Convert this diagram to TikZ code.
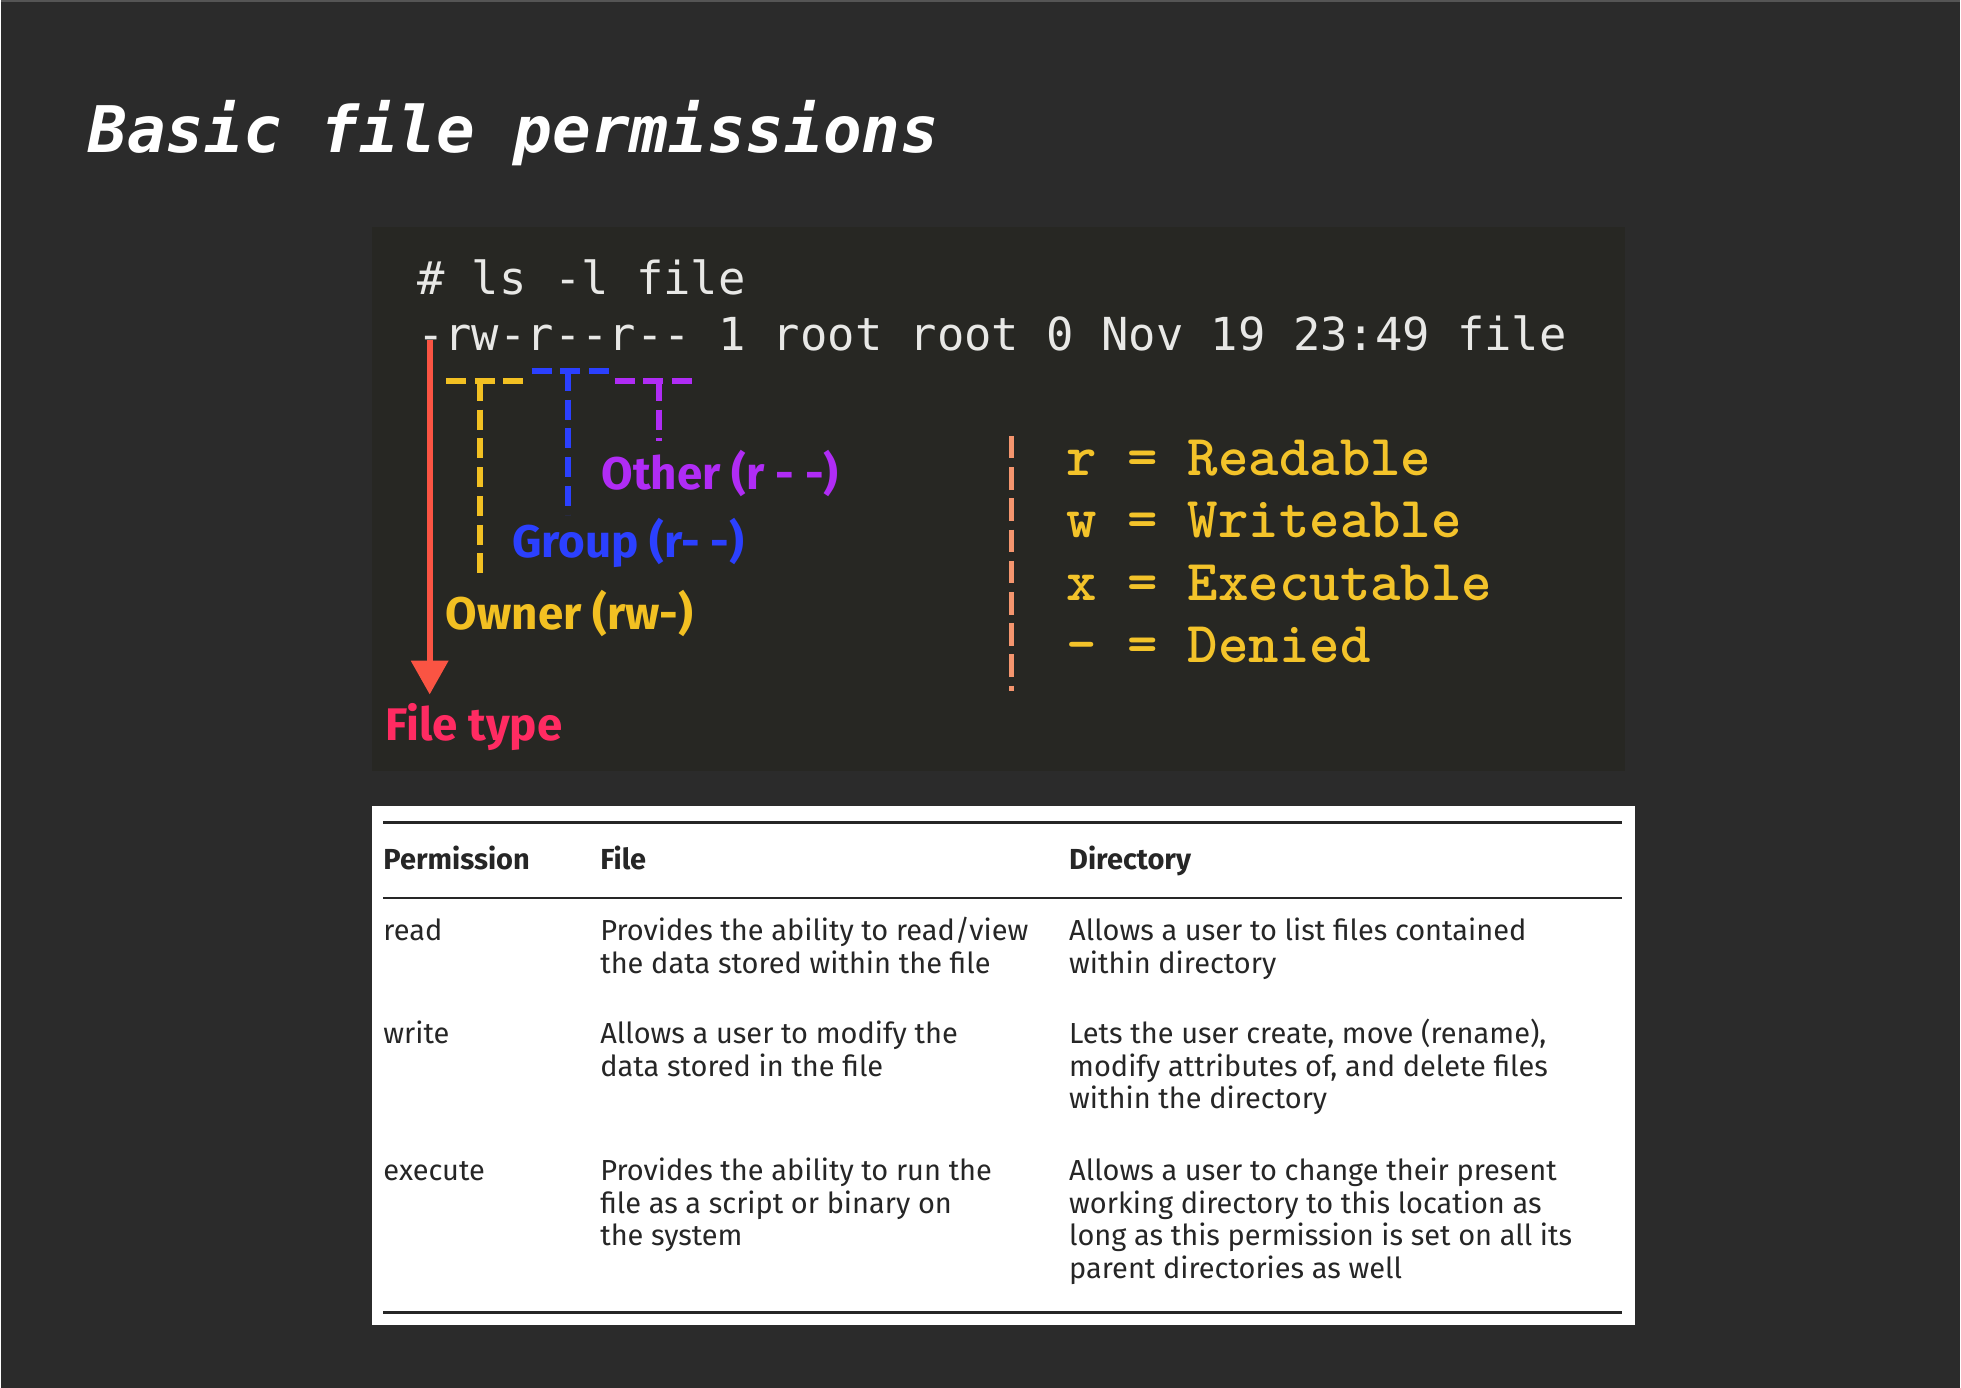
\documentclass[tikz,border=0pt]{standalone}
\usepackage{fontspec}
\setmainfont{Fira Sans}
\setmonofont{DejaVu Sans Mono}
\newfontfamily\legendfont{lmmonolt10-bold.otf}
\usetikzlibrary{positioning,arrows.meta}

\definecolor{bgdark}{HTML}{2B2B2B}
\definecolor{topline}{HTML}{555555}
\definecolor{termbg}{HTML}{272723}
\definecolor{termfg}{HTML}{E8E8E6}
\definecolor{ownerc}{HTML}{F2C022}
\definecolor{groupc}{HTML}{2B40FF}
\definecolor{otherc}{HTML}{B02CF5}
\definecolor{arrowc}{HTML}{FA5443}
\definecolor{typec}{HTML}{FF2B62}
\definecolor{legc}{HTML}{F3C32A}
\definecolor{sepc}{HTML}{F4956E}
\definecolor{tabtext}{HTML}{262626}

\newcommand{\cellrows}[1]{\begin{tabular}[t]{@{}l@{}}#1\end{tabular}}

\begin{document}
\begin{tikzpicture}[x=0.5pt,y=-0.5pt,
  every node/.style={inner sep=0pt, outer sep=0pt},
  titletext/.style={anchor=base west, font=\ttfamily\bfseries\itshape\fontsize{25.7}{30}\selectfont, text=white},
  termtext/.style={anchor=base west, font=\ttfamily\fontsize{18.2}{22}\selectfont, text=termfg},
  tagtext/.style={anchor=base west, font=\bfseries\fontsize{18.3}{21}\selectfont},
  legendtext/.style={anchor=base west, font=\legendfont\fontsize{23.2}{27}\selectfont, text=legc},
  tabhead/.style={anchor=base west, font=\bfseries\fontsize{11.6}{13}\selectfont, text=tabtext},
  tabcell/.style={anchor=base west, font=\fontsize{11.6}{13}\selectfont, text=tabtext},
  bracket/.style={line width=2.4pt, dash pattern=on 8pt off 3.5pt},
  sepline/.style={sepc, line width=2.2pt, dash pattern=on 9pt off 3.5pt},
  typearrow/.style={arrowc, line width=2.3pt, -{Triangle[width=14.5pt,length=13.5pt]}},
  rulethick/.style={tabtext, line width=1.3pt},
  rulethin/.style={tabtext, line width=0.7pt}
]
\fill[bgdark] (0,0) rectangle (1568,1111);
\draw[topline, line width=1pt] (0,1) -- (1568,1);

\node[titletext] (title) at (70,122) {Basic file permissions};

% terminal
\fill[termbg] (297,182) rectangle (1300,617);
\node[termtext] (cmd) at (333,236) {\# ls -l file};
\node[termtext] (lsout) at (333,281) {-rw-r--r-- 1 root root 0 Nov 19 23:49 file};

\coordinate (typetop) at (343,272);
\coordinate (typetip) at (343,556);
\draw[typearrow] (typetop) -- (typetip);

\draw[bracket, ownerc] (356,305) -- (418,305);
\draw[bracket, ownerc] (383.5,305) -- (383.5,465);
\draw[bracket, groupc] (424.6,297) -- (487,297);
\draw[bracket, groupc] (454,297) -- (454,412);
\draw[bracket, otherc] (491,305) -- (554,305);
\draw[bracket, otherc] (526.5,305) -- (526.5,353);

\node[tagtext, otherc] (other) at (480.6,392) {Other (r - -)};
\node[tagtext, groupc] (group) at (409,446) {Group (r- -)};
\node[tagtext, ownerc] (owner) at (356,504) {Owner (rw-)};
\node[tagtext, typec] (ftype) at (307.5,593) {File type};

\draw[sepline] (809,349) -- (809,553);
\foreach \sym/\word [count=\k from 0] in {r/Readable, w/Writeable, x/Executable, -/Denied}
  \node[legendtext] (leg\k) at (852.6,381+49.7*\k) {\sym{} = \word};

% table
\fill[white] (297,645) rectangle (1308,1061);
\draw[rulethick] (306,658.5) -- (1297.5,658.5);
\draw[rulethin] (306,719) -- (1297.5,719);
\draw[rulethick] (306,1051) -- (1297.5,1051);

\node[tabhead] (hperm) at (306,696) {Permission};
\node[tabhead] (hfile) at (479.6,696) {File};
\node[tabhead] (hdir) at (855,696) {Directory};

\node[tabcell] (pread) at (306,753) {read};
\node[tabcell] (fread) at (479.6,753) {\cellrows{Provides the ability to read/view\\the data stored within the file}};
\node[tabcell] (dread) at (855,753) {\cellrows{Allows a user to list files contained\\within directory}};

\node[tabcell] (pwrite) at (306,835.6) {write};
\node[tabcell] (fwrite) at (479.6,835.6) {\cellrows{Allows a user to modify the\\data stored in the file}};
\node[tabcell] (dwrite) at (855,835.6) {\cellrows{Lets the user create, move (rename),\\modify attributes of, and delete files\\within the directory}};

\node[tabcell] (pexec) at (306,945.5) {execute};
\node[tabcell] (fexec) at (479.6,945.5) {\cellrows{Provides the ability to run the\\file as a script or binary on\\the system}};
\node[tabcell] (dexec) at (855,945.5) {\cellrows{Allows a user to change their present\\working directory to this location as\\long as this permission is set on all its\\parent directories as well}};
\end{tikzpicture}
\end{document}
